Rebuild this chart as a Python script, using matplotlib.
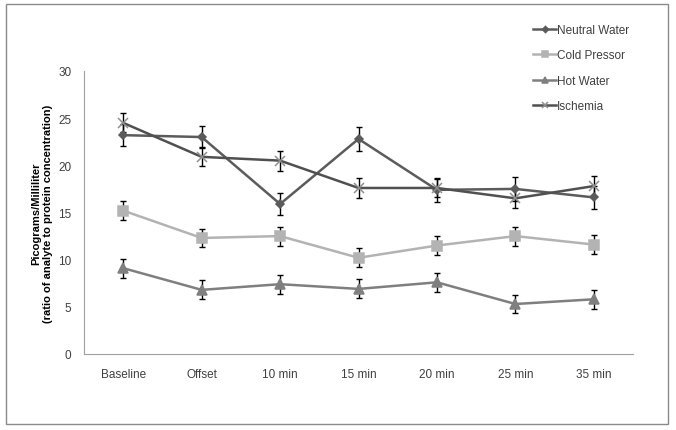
import matplotlib.pyplot as plt
import numpy as np
from matplotlib.patches import Rectangle

# ------------------------------------
# data
# ------------------------------------
categories = ['Baseline', 'Offset', '10 min', '15 min', '20 min', '25 min', '35 min']

neutral_water = [23.2, 23.0, 15.9, 22.8, 17.4, 17.5, 16.6]
cold_pressor = [15.2, 12.3, 12.5, 10.2, 11.5, 12.5, 11.6]
hot_water = [9.1, 6.8, 7.4, 6.9, 7.6, 5.3, 5.8]
ischemia = [24.5, 20.9, 20.5, 17.6, 17.6, 16.5, 17.8]

neutral_err = [1.2, 1.2, 1.2, 1.25, 1.25, 1.3, 1.2]
cold_err = [1.0, 1.0, 1.0, 1.0, 1.0, 1.0, 1.0]
hot_err = [1.0, 1.0, 1.0, 1.0, 1.0, 1.0, 1.0]
ischemia_err = [1.0, 1.0, 1.05, 1.07, 1.0, 1.0, 1.05]

yticks = [0, 5, 10, 15, 20, 25, 30]

# ------------------------------------
# style
# ------------------------------------
plt.rcParams.update({
    'font.family': ['Liberation Sans', 'DejaVu Sans'],
    'font.size': 8,
})

fig = plt.figure(figsize=(6.76, 4.31), dpi=100)
ax = fig.add_axes([84/676, 1-355/431, (633-84)/676, (355-72)/431])

x = np.arange(len(categories))

series = [
    ('Neutral Water', neutral_water, neutral_err, '#5b5b5b', 'D', 4.5, '#5b5b5b'),
    ('Cold Pressor', cold_pressor, cold_err, '#b3b3b3', 's', 6.5, '#b3b3b3'),
    ('Hot Water', hot_water, hot_err, '#7f7f7f', '^', 6.5, '#7f7f7f'),
    ('Ischemia', ischemia, ischemia_err, '#505050', 'x', 6.5, '#8f8f8f'),
]

for label, vals, err, color, marker, ms, mcolor in series:
    ax.errorbar(x, vals, yerr=err, fmt='none', ecolor='black', elinewidth=1.0,
                capsize=2.5, capthick=1.0, zorder=2)
    ax.plot(x, vals, color=color, lw=1.8, marker=marker, markersize=ms,
            markerfacecolor=mcolor, markeredgecolor=mcolor, markeredgewidth=1.1,
            label=label, zorder=3)

ax.set_xlim(-0.5, len(categories) - 0.5)
ax.set_ylim(0, 30)
ax.set_yticks(yticks)
ax.set_xticks(x)
ax.set_xticklabels(categories)
ax.tick_params(axis='both', length=0, colors='#404040', labelsize=8.5)
ax.tick_params(axis='x', pad=10)
ax.tick_params(axis='y', pad=9)

for s in ['top', 'right']:
    ax.spines[s].set_visible(False)
for s in ['left', 'bottom']:
    ax.spines[s].set_color('#a0a0a0')
    ax.spines[s].set_linewidth(0.8)

ax.set_ylabel('Picograms/Milliliter\n(ratio of analyte to protein concentration)',
              fontweight='bold', fontsize=8, labelpad=4, linespacing=1.2)

leg = fig.legend(loc='upper left', bbox_to_anchor=(528/676, 1-20/431), frameon=False,
                 handlelength=2.0, handletextpad=0.05, labelspacing=1.15,
                 fontsize=8.5, borderaxespad=0, markerscale=0.7)
for t in leg.get_texts():
    t.set_color('#404040')

# outer border
fig.patches.append(Rectangle((6/676, 1-425/431), (668-6)/676, (425-5)/431,
                             transform=fig.transFigure, fill=False,
                             edgecolor='#8a8a8a', lw=1.0))

fig.savefig('out.png', dpi=100)
